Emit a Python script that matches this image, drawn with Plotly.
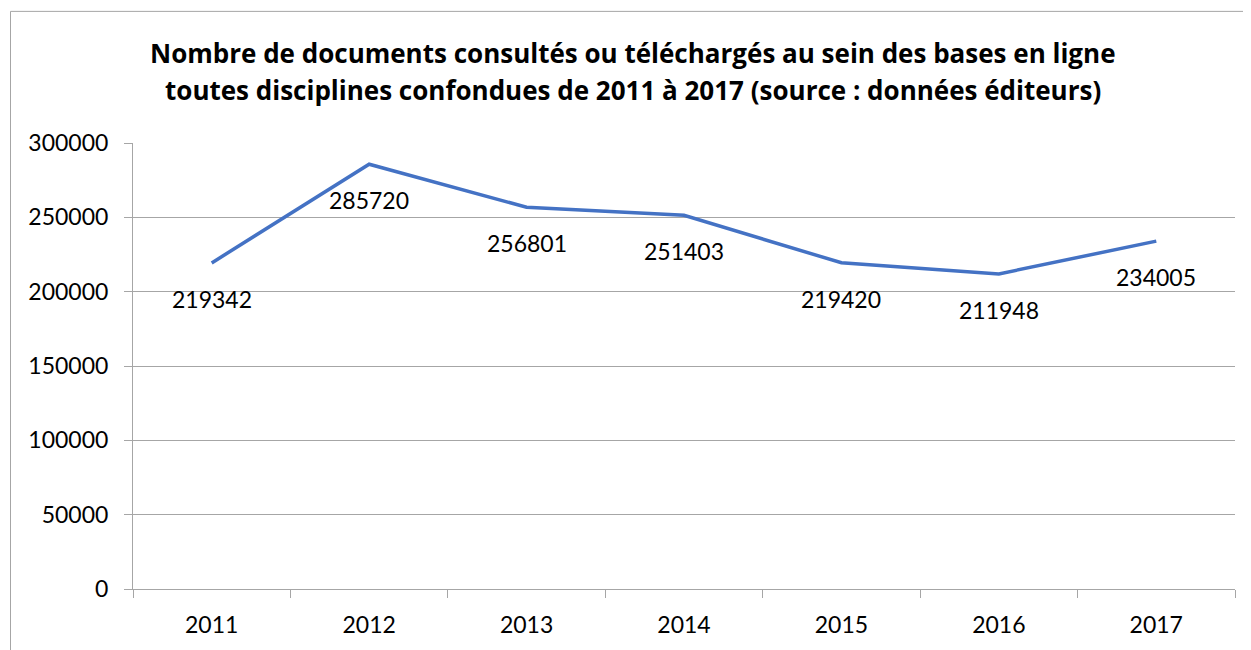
import plotly.graph_objects as go

years = ["2011", "2012", "2013", "2014", "2015", "2016", "2017"]
values = [219342, 285720, 256801, 251403, 219420, 211948, 234005]
y_ticks = [0, 50000, 100000, 150000, 200000, 250000, 300000]
title_lines = [
    "Nombre de documents consultés ou téléchargés au sein des bases en ligne",
    "toutes disciplines confondues de 2011 à 2017 (source : données éditeurs)",
]

# page body has an 8px default margin: the figure is drawn at (8, 8)
OFF = 8
SW, SH = 1251, 650                       # screen size
PL, PR, PT, PB = 133, 1235, 143, 592      # plot area in screen pixels
W, H = SW - OFF, SH - OFF
L, T = PL - OFF, PT - OFF
R, B = SW - PR, SH - PB
pw, ph = PR - PL, PB - PT

NUM_FONT = "Lato"
TITLE_FONT = "Open Sans"
GRID = "#a6a6a6"

fig = go.Figure()
fig.add_trace(go.Scatter(
    x=years, y=values, mode="lines",
    line=dict(color="#4472C4", width=3.5),
    hoverinfo="x+y", showlegend=False,
))

annotations = []
for i, v in enumerate(values):
    annotations.append(dict(
        x=i, y=v, xref="x", yref="y", text=str(v), showarrow=False,
        yshift=-36, xanchor="center", yanchor="middle",
        font=dict(family=NUM_FONT, size=23, color="#000000"),
    ))

title_y_px = [52, 90]
for line, ypx in zip(title_lines, title_y_px):
    annotations.append(dict(
        x=(633 - PL) / pw, y=1 + (PT - ypx) / ph, xref="paper", yref="paper",
        text="<b>" + line + "</b>", showarrow=False,
        xanchor="center", yanchor="middle",
        font=dict(family=TITLE_FONT, size=26, color="#000000"),
    ))

fig.update_layout(
    width=W, height=H,
    margin=dict(l=L, r=R, t=T, b=B, pad=0),
    paper_bgcolor="white", plot_bgcolor="white",
    annotations=annotations,
    shapes=[dict(
        type="rect", xref="paper", yref="paper",
        x0=(10.5 - PL) / pw, x1=(SW + 5 - PL) / pw,
        y0=(PB - (SH + 20)) / ph, y1=1 + (PT - 10.5) / ph,
        line=dict(color=GRID, width=1), fillcolor="rgba(0,0,0,0)", layer="below",
    )],
)

fig.update_xaxes(
    type="category", range=[-0.5, 6.5],
    showline=True, linecolor=GRID, linewidth=1,
    ticks="outside", tickson="boundaries", ticklen=8, tickcolor=GRID, tickwidth=1,
    showgrid=False, zeroline=False,
    tickfont=dict(family=NUM_FONT, size=23, color="#000000"),
    ticklabelstandoff=15,
)
fig.update_yaxes(
    range=[0, 300000], tickvals=y_ticks, ticktext=[str(t) for t in y_ticks],
    showline=True, linecolor=GRID, linewidth=1,
    ticks="outside", ticklen=8, tickcolor=GRID, tickwidth=1,
    showgrid=True, gridcolor=GRID, gridwidth=1, zeroline=False,
    tickfont=dict(family=NUM_FONT, size=23, color="#000000"),
    ticklabelstandoff=11,
)

fig.write_html("out.html")
